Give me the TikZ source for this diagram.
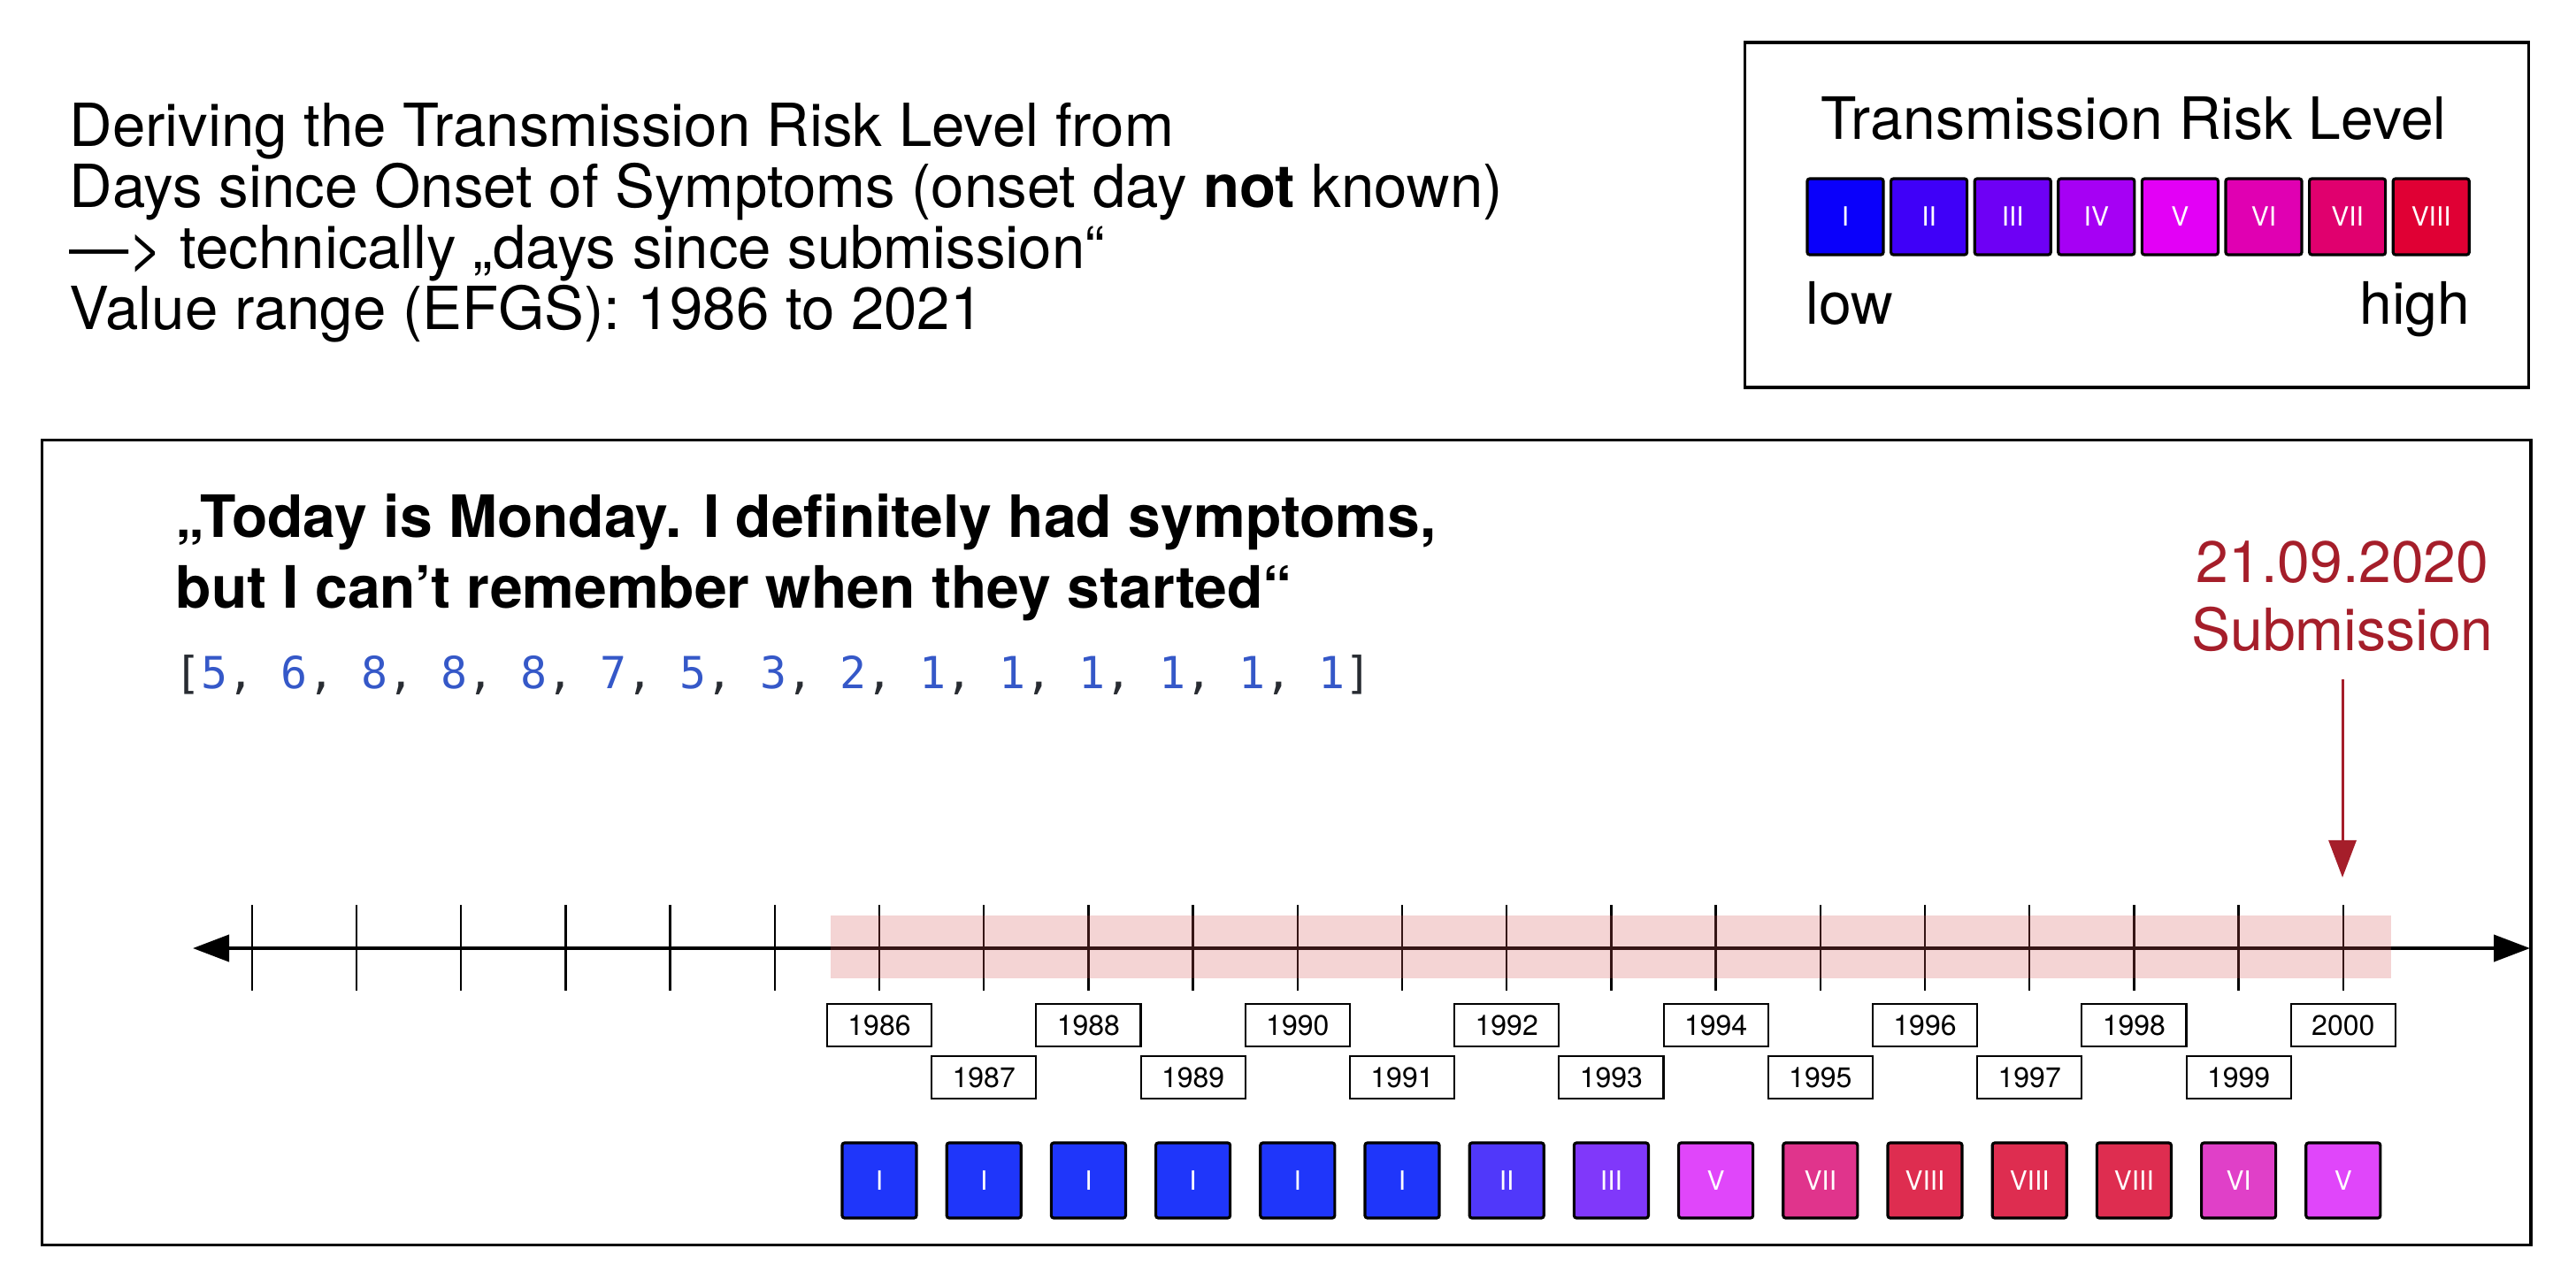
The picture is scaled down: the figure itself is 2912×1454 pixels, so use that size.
\documentclass[tikz,border=0pt]{standalone}
\usepackage{fontspec}
\usepackage{graphicx}
\setmainfont{TeX Gyre Heros}
\setmonofont{DejaVu Sans Mono}
\usetikzlibrary{arrows.meta}
\definecolor{numblue}{RGB}{53,88,200}
\definecolor{bracketgray}{RGB}{40,44,50}
\definecolor{subred}{RGB}{165,30,42}
\definecolor{bandpink}{RGB}{214,85,85}
% legend colours
\definecolor{LI}{RGB}{10,0,251}
\definecolor{LII}{RGB}{63,0,248}
\definecolor{LIII}{RGB}{110,0,245}
\definecolor{LIV}{RGB}{166,0,244}
\definecolor{LV}{RGB}{227,0,246}
\definecolor{LVI}{RGB}{224,0,178}
\definecolor{LVII}{RGB}{224,0,110}
\definecolor{LVIII}{RGB}{224,0,52}
% timeline square colours
\definecolor{TI}{RGB}{31,54,250}
\definecolor{TII}{RGB}{80,56,250}
\definecolor{TIII}{RGB}{128,56,250}
\definecolor{TV}{RGB}{224,70,250}
\definecolor{TVI}{RGB}{224,64,200}
\definecolor{TVII}{RGB}{224,52,140}
\definecolor{TVIII}{RGB}{222,45,80}
\newcommand\myfs[1]{\fontsize{#1}{#1}\selectfont}
\newcommand\nb[1]{\textcolor{numblue}{#1}}
\tikzset{
  frame/.style={draw=black, line width=0.94pt, inner sep=0pt},
  lefttext/.style={anchor=base west, inner sep=0pt, font=\myfs{19.1}},
  quotetext/.style={anchor=base west, inner sep=0pt, font=\bfseries\myfs{18.78}},
  bigtext/.style={inner sep=0pt, font=\myfs{18.78}},
  legsq/.style={draw=black, line width=0.9pt, rounded corners=0.8pt, minimum width=0.86cm, minimum height=0.86cm, inner sep=0pt, text=white, font=\myfs{8.5}},
  lvlsq/.style={draw=black, line width=0.9pt, rounded corners=0.8pt, minimum width=0.84cm, minimum height=0.85cm, inner sep=0pt, text=white, font=\myfs{8.5}},
  yearbox/.style={draw=black, line width=0.6pt, minimum width=1.18cm, minimum height=0.48cm, inner sep=0pt, font=\myfs{9.1}},
  axisline/.style={line width=1.15pt, {Triangle[length=0.41cm,width=0.30cm]}-{Triangle[length=0.41cm,width=0.30cm]}},
  tickline/.style={line width=0.72pt},
  subarrow/.style={draw=subred, line width=0.85pt, -{Triangle[length=0.42cm,width=0.31cm]}, color=subred},
}
\begin{document}
\begin{tikzpicture}[x=0.01cm,y=-0.01cm]
\useasboundingbox (0,0) rectangle (2912,1454);
\fill[white] (0,0) rectangle (2912,1454);

% ---- heading text (left)
\node[lefttext] (h1) at (78,165) {Deriving the Transmission Risk Level from};
\node[lefttext] (h2) at (78,234) {Days since Onset of Symptoms (onset day \textbf{not} known)};
\node[lefttext] (h3) at (78,303) {—> technically „days since submission“};
\node[lefttext] (h4) at (78,372) {Value range (EFGS): 1986 to 2021};

% ---- legend
\node[frame, minimum width=8.85cm, minimum height=3.9cm] (legend) at (2415.5,243) {};
\node[bigtext, anchor=base] (legtitle) at (2412,157) {Transmission Risk Level};
\foreach \i/\n/\c in {0/I/LI,1/II/LII,2/III/LIII,3/IV/LIV,4/V/LV,5/VI/LVI,6/VII/LVII,7/VIII/LVIII}{
  \node[legsq, fill=\c] (leg\i) at (2086+94.6*\i,245) {\n};
}
\node[bigtext, anchor=base west] (low) at (2041,366) {low};
\node[bigtext, anchor=base east] (high) at (2793,366) {high};

% ---- main box
\node[frame, minimum width=28.12cm, minimum height=9.09cm] (main) at (1454,952.5) {};

\node[quotetext] (q1) at (198,607) {„Today is Monday. I definitely had symptoms,};
\node[quotetext] (q2) at (198,687) {but I can’t remember when they started“};
\node[anchor=base west, inner sep=0pt, font=\ttfamily\myfs{14.2}, text=bracketgray] (values) at (197,778)
 {[\nb{5}, \nb{6}, \nb{8}, \nb{8}, \nb{8}, \nb{7}, \nb{5}, \nb{3}, \nb{2}, \nb{1}, \nb{1}, \nb{1}, \nb{1}, \nb{1}, \nb{1}]};

% ---- submission marker
\node[bigtext, anchor=base, text=subred] (subdate) at (2648,658) {21.09.2020};
\node[bigtext, anchor=base, text=subred] (sublabel) at (2648,735) {Submission};
\coordinate (subfrom) at (2648,768);
\coordinate (subto) at (2648,992);
\draw[subarrow] (subfrom) -- (subto);

% ---- axis
\coordinate (axL) at (218,1072);
\coordinate (axR) at (2860,1072);
\draw[axisline] (axL) -- (axR);
\foreach \k in {-6,...,14}{
  \coordinate (tt\k) at (994+118.2*\k,1023);
  \coordinate (tb\k) at (994+118.2*\k,1120);
  \draw[tickline] (tt\k) -- (tb\k);
}
\fill[bandpink, opacity=0.25] (939,1035) rectangle (2703,1106);

% ---- year labels
\foreach \k in {0,2,...,14}{
  \pgfmathtruncatemacro\yr{1986+\k}
  \node[yearbox] (yr\yr) at (994+118.2*\k,1159) {\yr};
}
\foreach \k in {1,3,...,13}{
  \pgfmathtruncatemacro\yr{1986+\k}
  \node[yearbox] (yr\yr) at (994+118.2*\k,1218) {\yr};
}

% ---- levels per day
\foreach \k/\n/\c in {0/I/TI,1/I/TI,2/I/TI,3/I/TI,4/I/TI,5/I/TI,6/II/TII,7/III/TIII,8/V/TV,9/VII/TVII,10/VIII/TVIII,11/VIII/TVIII,12/VIII/TVIII,13/VI/TVI,14/V/TV}{
  \node[lvlsq, fill=\c] (lv\k) at (994+118.2*\k,1334.5) {\n};
}
\end{tikzpicture}
\end{document}
